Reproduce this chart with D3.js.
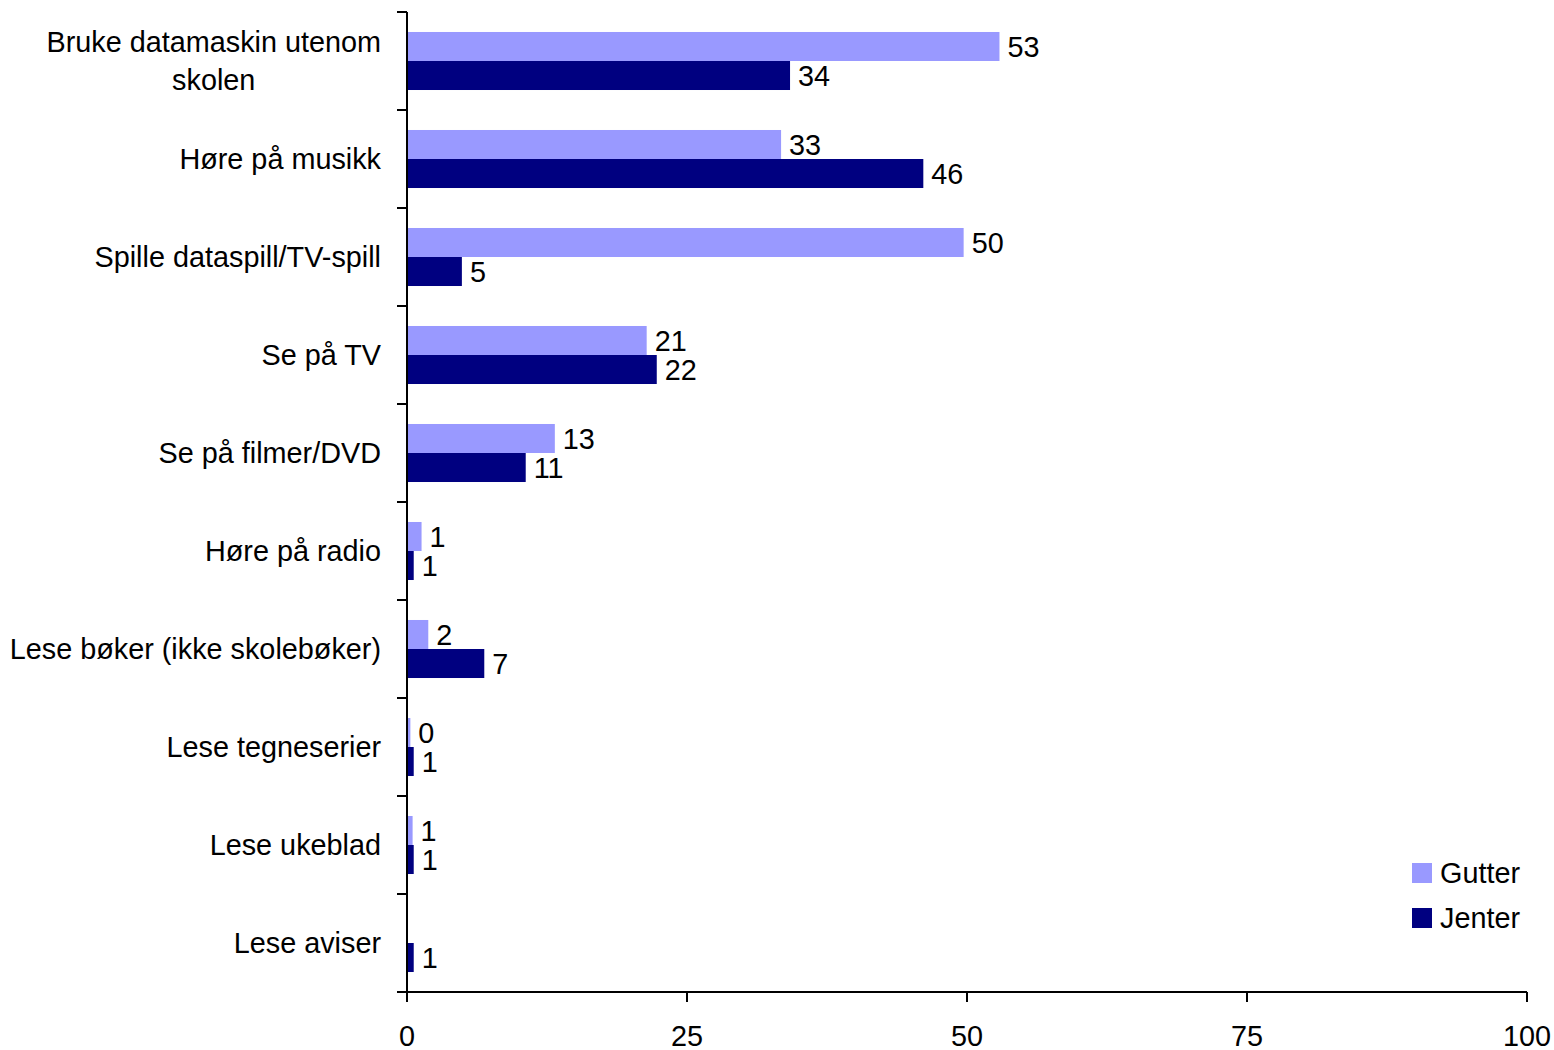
<!DOCTYPE html>
<html><head><meta charset="utf-8">
<script src="https://cdn.jsdelivr.net/npm/d3@7"></script>
<style>body{margin:0;background:#fff}svg text{font-family:"Liberation Sans",Arial,sans-serif;fill:#000}</style>
</head><body><svg id="c" width="1554" height="1050"></svg>
<script>
const categories = ["Bruke datamaskin utenom skolen","Høre på musikk","Spille dataspill/TV-spill","Se på TV","Se på filmer/DVD","Høre på radio","Lese bøker (ikke skolebøker)","Lese tegneserier","Lese ukeblad","Lese aviser"];
const categoryLines = [["Bruke datamaskin utenom","skolen"],["Høre på musikk"],["Spille dataspill/TV-spill"],["Se på TV"],["Se på filmer/DVD"],["Høre på radio"],["Lese bøker (ikke skolebøker)"],["Lese tegneserier"],["Lese ukeblad"],["Lese aviser"]];
const gutter = [52.9,33.4,49.7,21.4,13.2,1.3,1.9,0.3,0.5,0];
const jenter = [34.2,46.1,4.9,22.3,10.6,0.6,6.9,0.6,0.6,0.6];
const gutterLabels = ["53","33","50","21","13","1","2","0","1",""];
const jenterLabels = ["34","46","5","22","11","1","7","1","1","1"];
const seriesNames = ["Gutter","Jenter"];
const colors = ["#9999FF","#000080"];
const xTicks = [0,25,50,75,100];

(function(){
const svg = d3.select("#c");
const mL = 407, mR = 1527, mT = 12, mB = 992;
const x = d3.scaleLinear().domain([0,100]).range([mL,mR]);
const y = d3.scaleBand().domain(categories).range([mT,mB]).paddingInner(0.408).paddingOuter(0.204);
const sub = d3.scaleBand().domain(seriesNames).range([0,y.bandwidth()]);
const fs = 28.8;

const series = [gutter, jenter];
const labels = [gutterLabels, jenterLabels];
series.forEach((vals, si) => {
  const g = svg.append("g");
  g.selectAll("rect").data(categories).join("rect")
    .attr("x", x(0))
    .attr("y", d => y(d) + sub(seriesNames[si]))
    .attr("width", (d,i) => Math.max(0, x(vals[i]) - x(0)))
    .attr("height", sub.bandwidth())
    .attr("fill", colors[si]);
  g.selectAll("text").data(categories).join("text")
    .attr("x", (d,i) => x(vals[i]) + 8)
    .attr("y", d => y(d) + sub(seriesNames[si]) + sub.bandwidth()/2 + 3)
    .attr("dominant-baseline","middle")
    .attr("font-size", fs)
    .text((d,i) => labels[si][i]);
});

const bandStep = (mB - mT)/categories.length;
svg.append("line").attr("x1",mL).attr("x2",mL).attr("y1",mT).attr("y2",mB).attr("stroke","#000").attr("stroke-width",2);
const bounds = d3.range(categories.length+1).map(i => mT + i*bandStep);
svg.selectAll(".yt").data(bounds).join("line").attr("class","yt")
  .attr("x1",mL-10).attr("x2",mL).attr("y1",d=>d).attr("y2",d=>d).attr("stroke","#000").attr("stroke-width",2);

categories.forEach((c,i) => {
  const lines = categoryLines[i];
  const cy = y(c) + y.bandwidth()/2 + 2;
  const lh = 38;
  const t = svg.append("text").attr("font-size",fs).attr("text-anchor", lines.length>1 ? "middle":"end");
  if (lines.length > 1) {
    const tmp = svg.append("text").attr("font-size",fs).text(lines[0]);
    const w = tmp.node().getComputedTextLength(); tmp.remove();
    const cx = 381 - w/2;
    lines.forEach((ln,k) => t.append("tspan").attr("x",cx).attr("y", cy + (k - (lines.length-1)/2)*lh).attr("dominant-baseline","middle").text(ln));
  } else {
    t.attr("x",381).attr("y",cy).attr("dominant-baseline","middle").text(lines[0]);
  }
});

const xa = svg.append("g").attr("transform",`translate(0,${mB})`);
xa.append("line").attr("x1",mL-10).attr("x2",mR).attr("y1",0).attr("y2",0).attr("stroke","#000").attr("stroke-width",2);
xa.selectAll(".xt").data(xTicks).join("line").attr("class","xt")
  .attr("x1",d=>x(d)).attr("x2",d=>x(d)).attr("y1",0).attr("y2",10).attr("stroke","#000").attr("stroke-width",2);
xa.selectAll(".xl").data(xTicks).join("text").attr("class","xl")
  .attr("x",d=>x(d)).attr("y",46).attr("text-anchor","middle").attr("dominant-baseline","middle").attr("font-size",fs).text(d=>d);

const lg = svg.append("g");
seriesNames.forEach((s,i) => {
  lg.append("rect").attr("x",1412).attr("y",863 + i*45).attr("width",20).attr("height",20).attr("fill",colors[i]);
  lg.append("text").attr("x",1440).attr("y",873 + i*45 + 2).attr("dominant-baseline","middle").attr("font-size",fs).text(s);
});
})();
</script></body></html>
